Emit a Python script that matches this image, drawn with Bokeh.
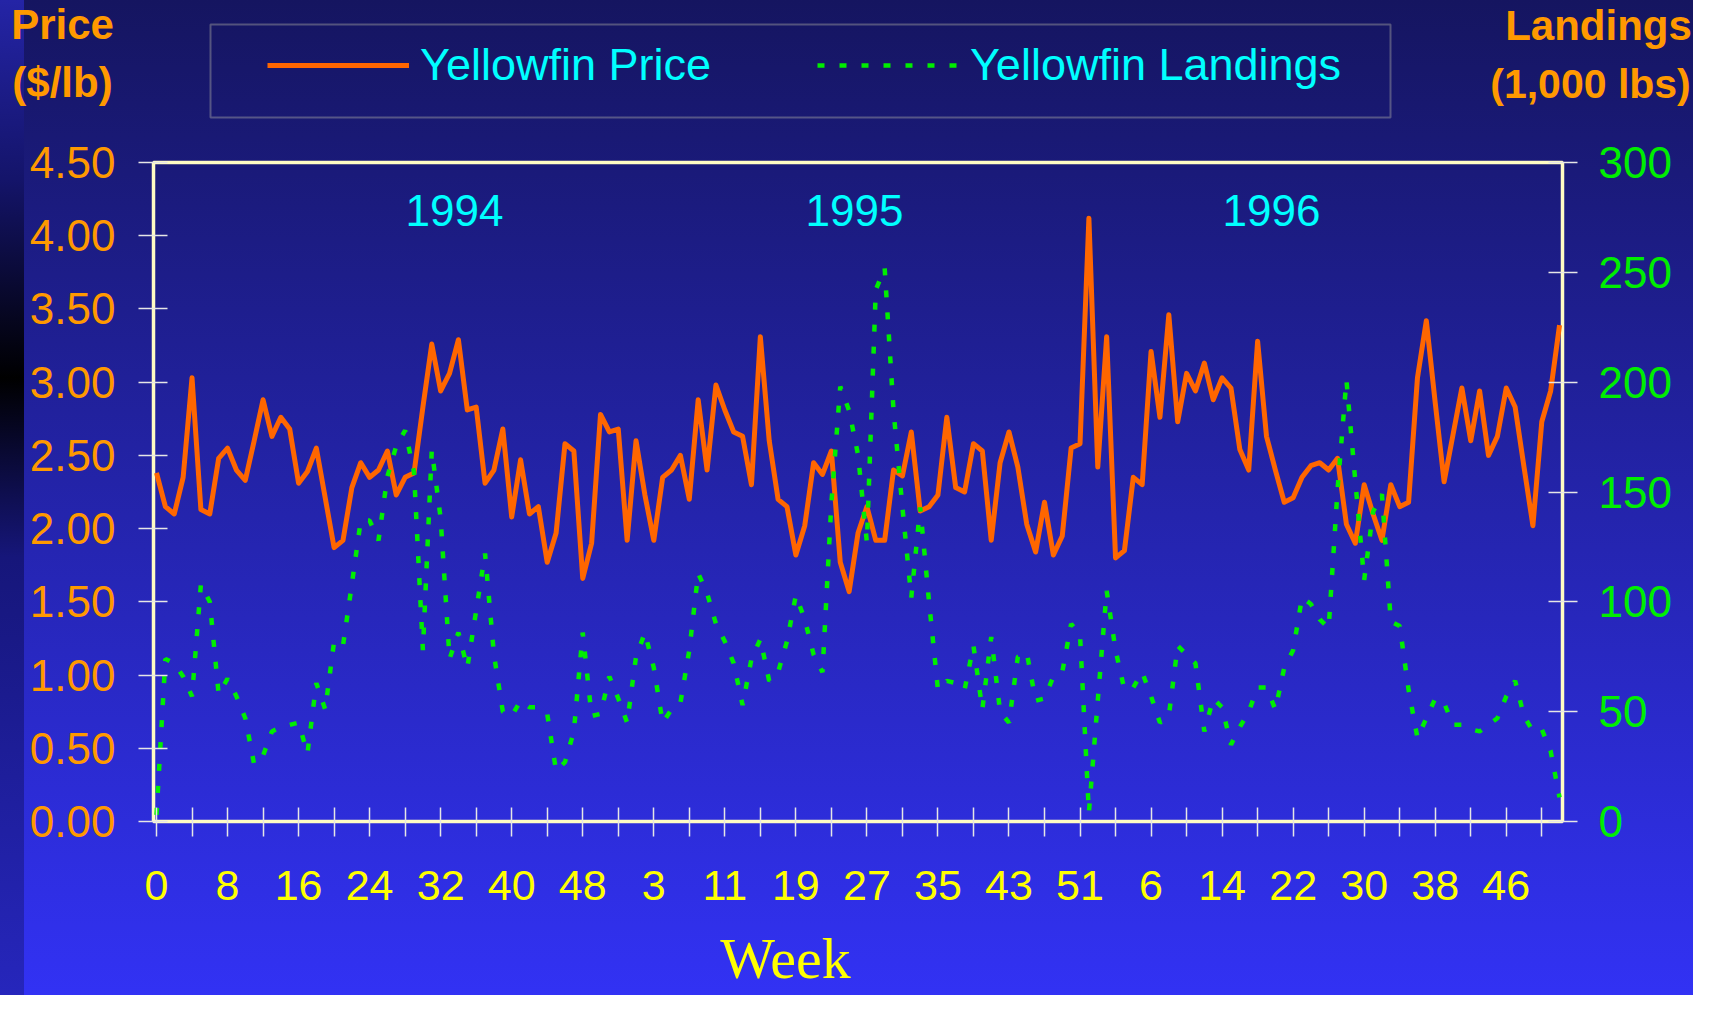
from bokeh.plotting import figure
from bokeh.layouts import column
from bokeh.models import (Range1d, LinearAxis, FixedTicker, PrintfTickFormatter,
                          Legend, LegendItem, Label, BoxAnnotation)
from bokeh.embed import file_html
from bokeh.resources import INLINE

# ---------------- data ----------------
years = ["1994", "1995", "1996"]

price_1994 = [2.38, 2.15, 2.10, 2.35, 3.03, 2.13, 2.10, 2.48, 2.55, 2.40,
              2.33, 2.60, 2.88, 2.63, 2.76, 2.68, 2.31, 2.39, 2.55, 2.21,
              1.87, 1.92, 2.28, 2.45, 2.35, 2.40, 2.53, 2.23, 2.35, 2.38,
              2.83, 3.26, 2.94, 3.06, 3.29, 2.81, 2.83, 2.31, 2.40, 2.68,
              2.08, 2.47, 2.10, 2.15, 1.77, 1.97, 2.58, 2.53, 1.66, 1.90,
              2.78, 2.66, 2.68]
price_1995 = [1.92, 2.60, 2.23, 1.92, 2.35, 2.40, 2.50, 2.20, 2.88, 2.40,
              2.98, 2.81, 2.66, 2.63, 2.30, 3.31, 2.60, 2.20, 2.15, 1.82,
              2.02, 2.45, 2.37, 2.53, 1.77, 1.57, 1.97, 2.15, 1.92, 1.92,
              2.40, 2.36, 2.66, 2.12, 2.15, 2.23, 2.76, 2.28, 2.25, 2.58,
              2.53, 1.92, 2.45, 2.66, 2.42, 2.03, 1.84, 2.18, 1.82, 1.95,
              2.55, 2.58, 4.12]
price_1996 = [2.42, 3.31, 1.80, 1.85, 2.35, 2.30, 3.21, 2.76, 3.46, 2.73,
              3.06, 2.94, 3.13, 2.88, 3.03, 2.96, 2.54, 2.40, 3.28, 2.63,
              2.40, 2.18, 2.21, 2.35, 2.43, 2.45, 2.40, 2.48, 2.03, 1.90,
              2.30, 2.10, 1.92, 2.30, 2.15, 2.18, 3.03, 3.42, 2.86, 2.32,
              2.64, 2.96, 2.60, 2.94, 2.50, 2.63, 2.96, 2.83, 2.42, 2.02,
              2.73, 2.94, 3.39]

landings_1994 = [3, 74, 72, 66, 57, 108, 100, 58, 65, 57,
                 47, 26, 30, 41, 43, 44, 45, 31, 63, 51,
                 82, 80, 108, 137, 137, 128, 157, 171, 178, 159,
                 78, 169, 138, 74, 86, 70, 96, 122, 76, 50,
                 48, 55, 52, 52, 49, 23, 27, 41, 86, 48,
                 49, 66, 56]
landings_1995 = [45, 75, 86, 70, 45, 51, 54, 78, 113, 104,
                 90, 82, 72, 53, 74, 83, 64, 68, 82, 103,
                 92, 76, 68, 145, 198, 187, 167, 127, 242, 252,
                 187, 143, 102, 143, 100, 60, 64, 63, 60, 80,
                 51, 84, 50, 45, 75, 77, 55, 56, 66, 68,
                 90, 85, 4]
landings_1996 = [55, 105, 78, 60, 61, 68, 57, 45, 48, 80,
                 76, 72, 41, 56, 52, 35, 43, 50, 61, 61,
                 51, 70, 78, 102, 99, 92, 88, 151, 201, 155,
                 110, 141, 149, 91, 89, 60, 38, 47, 56, 54,
                 44, 44, 42, 41, 44, 47, 57, 64, 48, 41,
                 42, 32, 11]

x_tick_labels = ["0", "8", "16", "24", "32", "40", "48", "3", "11", "19",
                 "27", "35", "43", "51", "6", "14", "22", "30", "38", "46"]
price_ticks = [0.0, 0.5, 1.0, 1.5, 2.0, 2.5, 3.0, 3.5, 4.0, 4.5]
landing_ticks = [0, 50, 100, 150, 200, 250, 300]

price = price_1994 + price_1995 + price_1996
landings = landings_1994 + landings_1995 + landings_1996
idx = list(range(len(price)))

# ---------------- layout constants (page px) ----------------
W = 1693
HH = 120            # header height
HM = 805            # main figure height
HF = 995 - HH - HM  # footer height
F_LEFT, F_RIGHT, F_TOP, F_BOT = 153, 1562, 162, 821
PX_PER_WEEK = 8.88
X0 = (F_LEFT - 156) / PX_PER_WEEK
X1 = X0 + (F_RIGHT - F_LEFT) / PX_PER_WEEK
BASE_SHIFT = 0.42   # label anchor correction (fraction of font size)

font = "Liberation Sans"
orange_txt = "#ff9900"
cyan = "#00ffff"
green = "#00ee00"
tick_col = "#e6e6e6"


def gx(page_x):
    return X0 + (page_x - F_LEFT) / PX_PER_WEEK


def gy(page_y):
    return 4.5 * (F_BOT - page_y) / (F_BOT - F_TOP)


def bare(h):
    f = figure(width=W, height=h, output_backend="svg", toolbar_location=None,
               title=None, x_range=Range1d(0, W), y_range=Range1d(h, 0),
               x_axis_location=None, y_axis_location=None,
               min_border_left=0, min_border_right=0,
               min_border_top=0, min_border_bottom=0)
    f.frame_align = False
    f.grid.visible = False
    f.outline_line_color = None
    f.background_fill_alpha = 0
    f.border_fill_alpha = 0
    return f


# ---------------- header: axis titles + legend ----------------
head = bare(HH)
for txt, cx, by, size in [("Price", 62, 42, 42), ("($/lb)", 62, 100, 42),
                          ("Landings", 1598, 43, 42),
                          ("(1,000 lbs)", 1590, 101, 41)]:
    head.add_layout(Label(x=cx, y=by - BASE_SHIFT * size, text=txt, text_align="center",
                          text_baseline="alphabetic", text_color=orange_txt,
                          text_font=font, text_font_style="bold",
                          text_font_size=f"{size}px"))

# legend proxies (same series, hidden in the header)
lg_price = head.line(idx, price, line_color="#ff6600", line_width=5, visible=False)
lg_land = head.line(idx, landings, line_color=green, line_width=4.5,
                    line_dash="7 15", visible=False)
legend = Legend(items=[LegendItem(label="Yellowfin Price", renderers=[lg_price]),
                       LegendItem(label="Yellowfin Landings", renderers=[lg_land])],
                orientation="horizontal", location=(267, HH - 91),
                glyph_width=142, glyph_height=50, label_height=50,
                label_standoff=11, spacing=106, padding=0, margin=0,
                border_line_alpha=0, background_fill_alpha=0,
                label_text_color=cyan, label_text_font=font,
                label_text_font_size="45px")
head.add_layout(legend, "center")
head.add_layout(BoxAnnotation(left=210, right=1390, top=24, bottom=117,
                              fill_alpha=0, line_color="#e6e6b8", line_width=2))

# ---------------- main chart ----------------
p = figure(width=W, height=HM, output_backend="svg", toolbar_location=None,
           title=None, x_range=Range1d(X0, X1), y_range=Range1d(0, 4.5),
           min_border_left=F_LEFT, min_border_right=W - F_RIGHT,
           min_border_top=F_TOP - HH, min_border_bottom=HM - (F_BOT - HH))
p.frame_align = False
p.extra_y_ranges = {"land": Range1d(0, 300)}
p.background_fill_alpha = 0
p.border_fill_alpha = 0
p.grid.visible = False
p.outline_line_color = "#fffcc4"
p.outline_line_width = 3.5

xa = p.xaxis[0]
major = list(range(0, 153, 8))
xa.ticker = FixedTicker(ticks=major, minor_ticks=list(range(4, 157, 8)))
xa.major_label_overrides = {m: lab for m, lab in zip(major, x_tick_labels)}
xa.axis_line_color = None
xa.major_tick_in = 14
xa.major_tick_out = 15
xa.minor_tick_in = 14
xa.minor_tick_out = 15
xa.major_tick_line_color = tick_col
xa.minor_tick_line_color = tick_col
xa.major_tick_line_width = 1.5
xa.minor_tick_line_width = 1.5
xa.major_label_text_color = "#ffff00"
xa.major_label_text_font = font
xa.major_label_text_font_size = "43px"
xa.major_label_standoff = 34

ya = p.yaxis[0]
ya.ticker = FixedTicker(ticks=price_ticks)
ya.formatter = PrintfTickFormatter(format="%.2f")
ya.axis_line_color = None
ya.major_tick_in = 14
ya.major_tick_out = 15
ya.minor_tick_line_color = None
ya.major_tick_line_color = tick_col
ya.major_tick_line_width = 1.5
ya.major_label_text_color = orange_txt
ya.major_label_text_font = font
ya.major_label_text_font_size = "44px"
ya.major_label_standoff = 23

ra = LinearAxis(y_range_name="land", ticker=FixedTicker(ticks=landing_ticks))
ra.axis_line_color = None
ra.major_tick_in = 14
ra.major_tick_out = 15
ra.minor_tick_line_color = None
ra.major_tick_line_color = tick_col
ra.major_tick_line_width = 1.5
ra.major_label_text_color = green
ra.major_label_text_font = font
ra.major_label_text_font_size = "44px"
ra.major_label_standoff = 21
p.add_layout(ra, "right")

p.line(idx, price, line_color="#ff6600", line_width=5, line_join="round")
p.line(idx, landings, y_range_name="land", line_color=green,
       line_width=4.5, line_dash="7 15")

for yr, cx in zip(years, [454, 854, 1271]):
    p.add_layout(Label(x=gx(cx), y=gy(228 - BASE_SHIFT * 44), text=yr,
                       text_align="center", text_baseline="alphabetic",
                       text_color=cyan, text_font=font, text_font_size="44px"))

# ---------------- footer: x axis title ----------------
foot = bare(HF)
foot.add_layout(Label(x=785, y=(982 - (HH + HM)) - BASE_SHIFT * 58, text="Week",
                      text_align="center", text_baseline="alphabetic",
                      text_color="#ffff00", text_font="Liberation Serif",
                      text_font_size="58px"))

page = column(head, p, foot, spacing=0, styles={
    "background": "linear-gradient(to bottom, #2424a6 0%, #14146a 18%, #000000 38%, "
                  "#16167a 56%, #2626bc 100%) 0 0 / 24px 100% no-repeat, "
                  "linear-gradient(to bottom, #151560 0%, #3232f4 100%)"})

open("out.html", "w").write(file_html(page, INLINE))
